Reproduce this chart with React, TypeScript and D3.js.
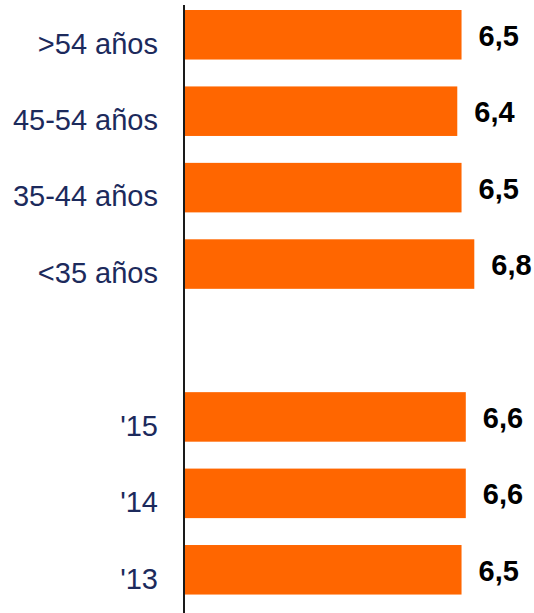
import React from "react";
import * as d3 from "d3";

const categories = [">54 años", "45-54 años", "35-44 años", "<35 años", "", "'15", "'14", "'13"];
const values: (number | null)[] = [6.5, 6.4, 6.5, 6.8, null, 6.6, 6.6, 6.5];
const valueLabels = ["6,5", "6,4", "6,5", "6,8", "", "6,6", "6,6", "6,5"];

const W = 534;
const H = 613;
const keys = categories.map((c, i) => `k${i}`);

export default function App() {
  const x = d3.scaleLinear().domain([0, 6.8]).range([185, 474.3]);
  const y = d3
    .scaleBand<string>()
    .domain(keys)
    .range([-3.45, 608])
    .paddingInner(0.352)
    .paddingOuter(0.176);
  const bw = y.bandwidth();
  return (
    <svg
      width={W}
      height={H}
      style={{ position: "absolute", left: 0, top: 0, background: "#fff" }}
      fontFamily="'Liberation Sans', Arial, sans-serif"
    >
      {keys.map((k, i) => {
        const v = values[i];
        if (v == null) return null;
        const top = y(k)!;
        return (
          <g key={k}>
            <rect x={x(0)} y={top} width={x(v) - x(0)} height={bw} fill="#FF6600" />
            <text
              x={158}
              y={top + 43.5}
              textAnchor="end"
              fontSize={29}
              fill="#1c2a5c"
            >
              {categories[i]}
            </text>
            <text
              x={x(v) + 17}
              y={top + 35.8}
              fontSize={29}
              fontWeight="bold"
              fill="#000"
            >
              {valueLabels[i]}
            </text>
          </g>
        );
      })}
      <line x1={184} x2={184} y1={5} y2={H} stroke="#1a1a1a" strokeWidth={2} />
    </svg>
  );
}
